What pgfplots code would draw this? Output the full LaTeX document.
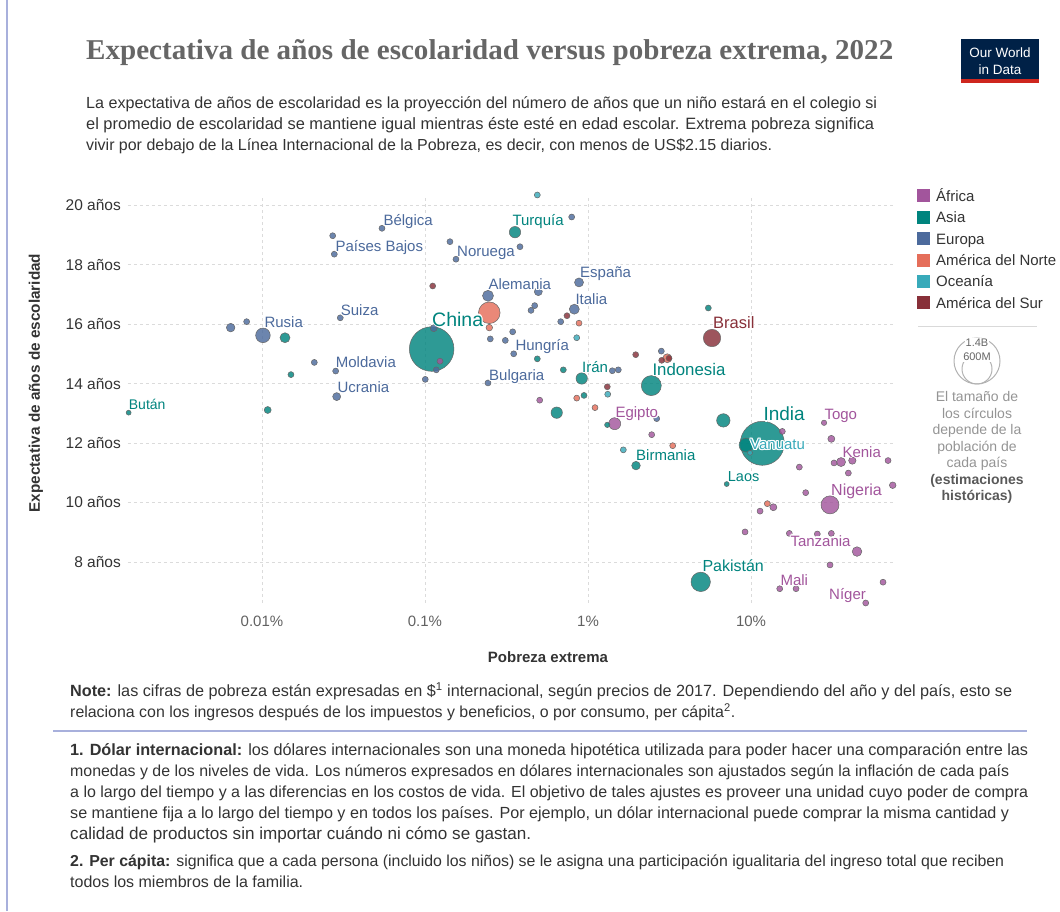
\documentclass[border=0pt]{standalone}
\usepackage{fontspec}
\setmainfont{Liberation Sans}
\newfontfamily\titlefont{Liberation Serif}
\usepackage{graphicx}
\usepackage{pgfplots}
\pgfplotsset{compat=1.18}
\usepackage{pgfplotstable}
\definecolor{c0}{HTML}{A2559C}
\definecolor{c1}{HTML}{00847E}
\definecolor{c2}{HTML}{4C6A9C}
\definecolor{c3}{HTML}{E56E5A}
\definecolor{c4}{HTML}{38AABA}
\definecolor{c5}{HTML}{883039}
\definecolor{txt}{HTML}{333333}
\definecolor{ttl}{HTML}{666666}
\definecolor{owid}{HTML}{002147}
\definecolor{owidred}{HTML}{CE261E}
\definecolor{frame}{HTML}{A8B0DC}

% x = poverty (%), y = years, r = radius (px), c = continent
% 0 Africa, 1 Asia, 2 Europe, 3 North America, 4 Oceania, 5 South America
\pgfplotstableread{
x y r c
0.1099 15.16 22.3 1
11.73 11.99 22.0 1
0.2480 16.38 10.8 3
2.445 13.93 10.0 1
4.913 7.33 9.7 1
30.52 9.92 9.0 0
5.764 15.53 8.7 5
0.01014 15.62 7.3 2
9.318 11.93 7.0 1
6.763 12.76 6.7 1
1.458 12.65 6.0 0
0.3566 19.09 5.7 1
0.9148 14.17 5.7 1
0.6427 13.02 5.7 1
0.2435 16.95 5.5 2
0.8241 16.50 5.0 2
0.01384 15.54 5.0 1
44.70 8.35 4.8 0
0.8807 17.40 4.5 2
35.66 11.36 4.5 0
3.065 14.85 4.5 3
0.006427 15.88 4.3 2
1.970 11.24 4.3 1
0.02873 13.56 4.0 2
0.4956 17.09 4.0 2
41.83 11.41 3.7 0
31.10 12.14 3.5 0
13.71 9.84 3.5 0
0.01084 13.11 3.5 1
0.1131 15.86 3.5 2
74.0 10.58 3.3 0
0.2480 15.88 3.3 3
0.02715 18.97 3.0 2
0.02778 18.35 3.0 2
0.03022 16.21 3.0 2
0.008053 16.08 3.0 2
0.02094 14.71 3.0 2
0.02832 14.42 3.0 2
0.7943 19.60 3.0 2
0.05447 19.22 3.0 2
0.1423 18.77 3.0 2
0.3826 18.60 3.0 2
0.1549 18.18 3.0 2
0.4710 16.62 3.0 2
0.4471 16.46 3.0 2
0.6803 16.08 3.0 2
0.2515 15.50 3.0 2
0.3109 15.45 3.0 2
0.3451 15.74 3.0 2
0.3501 15.00 3.0 2
0.1173 14.46 3.0 2
0.1004 14.14 3.0 2
0.2435 14.02 3.0 2
1.410 14.43 3.0 2
1.534 14.46 3.0 2
2.817 15.09 3.0 2
2.639 12.82 3.0 2
0.01506 14.30 3.0 1
0.4886 14.83 3.0 1
0.7056 14.46 3.0 1
0.9451 13.60 3.0 1
1.313 12.61 2.7 1
5.471 16.54 3.0 1
0.001521 13.02 2.5 1
7.094 10.62 2.5 1
0.4886 20.34 3.0 4
0.8526 15.54 3.0 4
1.321 13.64 3.0 4
1.647 11.77 3.0 4
9.860 11.67 2.5 4
0.8807 16.03 3.0 3
0.8526 13.51 3.0 3
1.104 13.19 3.0 3
3.308 11.91 3.0 3
12.59 9.96 3.0 3
0.1115 17.28 3.0 5
0.7431 16.28 3.0 5
1.962 14.97 3.0 5
1.313 13.89 3.0 5
2.833 14.78 3.0 5
3.140 14.85 3.0 5
0.1236 14.75 3.0 0
0.5055 13.44 3.0 0
2.459 12.28 3.0 0
15.56 12.39 3.0 0
28.05 12.68 2.7 0
19.79 11.19 3.0 0
32.30 11.33 3.0 0
39.54 10.99 3.0 0
69.27 11.41 3.0 0
21.65 10.33 3.0 0
11.36 9.71 3.0 0
9.189 9.01 3.0 0
17.18 8.96 3.0 0
25.51 8.94 3.0 0
31.10 8.96 3.0 0
30.52 7.90 3.0 0
15.00 7.10 3.0 0
18.89 7.10 3.0 0
64.53 7.32 3.0 0
50.53 6.62 3.0 0
}\datatable

% label: x-left (px), y-center (px), font size, colour, text
\newcommand\lab[5]{%
  \foreach \dx/\dy in {-1.2/0,1.2/0,0/-1.2,0/1.2,-0.85/-0.85,0.85/0.85,-0.85/0.85,0.85/-0.85}{%
    \node[anchor=base west, inner sep=0pt, text=white, font=\fontsize{#3}{#3}\selectfont] at ({#1+\dx},{911-#2-0.36*#3+\dy}) {#5};}%
  \node[anchor=base west, inner sep=0pt, text=#4, font=\fontsize{#3}{#3}\selectfont] at ({#1},{911-#2-0.36*#3}) {#5};%
}
% text line: x-left, y-center (px), width (px), text
\newcommand\tl[4]{\node[anchor=base west, inner sep=0pt, text=txt] at (#1,{911-#2-5.5}) {\resizebox{#3pt}{!}{\fontsize{15}{15}\selectfont #4}};}

\begin{document}
\begin{tikzpicture}[x=1pt,y=1pt]
\path[use as bounding box] (0,0) rectangle (1060,911);
\draw[frame, line width=1.5pt] (7,0) -- (7,911);

% title
\node[anchor=base west, inner sep=0pt, text=ttl] at (86,{911-60}) {\resizebox{807pt}{20pt}{\titlefont\bfseries Expectativa de años de escolaridad versus pobreza extrema, 2022}};
% logo
\fill[owid] (961,{911-83}) rectangle (1039,{911-39});
\fill[owidred] (961,{911-83}) rectangle (1039,{911-79});
\node[text=white, font=\fontsize{13.5}{13.5}\selectfont, inner sep=0pt, anchor=base] at (1000,{911-58}) {Our World};
\node[text=white, font=\fontsize{13.5}{13.5}\selectfont, inner sep=0pt, anchor=base] at (1000,{911-75}) {in Data};

% subtitle
\tl{86}{103}{791}{La expectativa de años de escolaridad es la proyección del número de años que un niño estará en el colegio si}
\tl{86}{124}{788}{el promedio de escolaridad se mantiene igual mientras éste esté en edad escolar. Extrema pobreza significa}
\tl{86}{145}{686}{vivir por debajo de la Línea Internacional de la Pobreza, es decir, con menos de US\$2.15 diarios.}

\begin{axis}[
  at={(128pt,308pt)}, anchor=south west,
  scale only axis, width=765pt, height=408pt,
  xmode=log, xmin=0.001507, xmax=74.3, ymin=6.62, ymax=20.34,
  axis line style={draw=none},
  tick style={draw=none},
  xtick={0.01,0.1,1,10}, xticklabels={0.01\%,0.1\%,1\%,10\%},
  ytick={8,10,12,14,16,18,20},
  yticklabels={8 años,10 años,12 años,14 años,16 años,18 años,20 años},
  minor x tick num=0,
  grid=major,
  major grid style={color=black!14, line width=0.8pt, dash pattern=on 3pt off 3pt},
  xticklabel style={font=\fontsize{15}{15}\selectfont, text=black!62, inner sep=0pt, yshift=-13pt},
  yticklabel style={font=\fontsize{15.5}{15.5}\selectfont, text=txt, inner sep=0pt, xshift=-7pt},
  clip=false,
]
\addplot[scatter, only marks, mark=*, point meta=\thisrow{r},
  visualization depends on={\thisrow{r} \as \rr},
  visualization depends on={\thisrow{c} \as \cc},
  scatter/@pre marker code/.code={%
    \pgfmathtruncatemacro\ci{\cc}%
    \edef\tmpcol{c\ci}%
    \scope[mark size=\rr, draw=black!60, line width=0.5pt, fill=\tmpcol, fill opacity=0.82]%
  },
  scatter/@post marker code/.code={\endscope},
] table[x=x,y=y] {\datatable};
\end{axis}

% axis titles
\node[rotate=90, font=\fontsize{15.3}{15.3}\selectfont\bfseries, text=txt] at (36,{911-383}) {Expectativa de años de escolaridad};
\node[font=\fontsize{15}{15}\selectfont\bfseries, text=txt] at (548,{911-657}) {Pobreza extrema};

% country labels
\lab{383.3}{220}{15}{c2}{Bélgica}
\lab{335.3}{246}{15}{c2}{Países Bajos}
\lab{457}{250.7}{15}{c2}{Noruega}
\lab{512.3}{220}{15}{c1}{Turquía}
\lab{340.7}{310}{15}{c2}{Suiza}
\lab{264.3}{321.7}{15}{c2}{Rusia}
\lab{335.7}{362}{15}{c2}{Moldavia}
\lab{337.3}{387}{15}{c2}{Ucrania}
\lab{128.7}{404}{14}{c1}{Bután}
\lab{488.3}{284}{15}{c2}{Alemania}
\lab{580}{271.7}{15}{c2}{España}
\lab{575.3}{298.7}{15}{c2}{Italia}
\lab{432}{319}{19.5}{c1}{China}
\lab{515.3}{344.7}{15}{c2}{Hungría}
\lab{489}{375}{15}{c2}{Bulgaria}
\lab{582}{367.3}{15}{c1}{Irán}
\lab{652.3}{369.3}{16.8}{c1}{Indonesia}
\lab{713}{322.7}{16.5}{c5}{Brasil}
\lab{615.3}{412.3}{15}{c0}{Egipto}
\lab{763.3}{414}{19}{c1}{India}
\lab{824.3}{414}{15}{c0}{Togo}
\lab{750}{444.3}{15}{c4}{Vanuatu}
\lab{842.3}{451.7}{15}{c0}{Kenia}
\lab{636}{454.7}{15}{c1}{Birmania}
\lab{727.7}{476}{14.5}{c1}{Laos}
\lab{831}{489.3}{16}{c0}{Nigeria}
\lab{790.3}{540.7}{15}{c0}{Tanzania}
\lab{702.3}{565.7}{16}{c1}{Pakistán}
\lab{780.3}{580}{15}{c0}{Mali}
\lab{829}{593.7}{15}{c0}{Níger}

% legend
\foreach \i/\name [count=\k from 0] in {c0/África,c1/Asia,c2/Europa,c3/América del Norte,c4/Oceanía,c5/América del Sur}{%
  \fill[\i] (917,{911-196-21.4*\k-6.5}) rectangle (930,{911-196-21.4*\k+6.5});
  \node[anchor=base west, inner sep=0pt, text=txt, font=\fontsize{15}{15}\selectfont] at (936,{911-196-21.4*\k-5.3}) {\name};
}
\draw[black!15, line width=1pt] (918,{911-327}) -- (1037,{911-327});
\draw[black!30, line width=1pt] (977,{911-361}) circle (23);
\draw[black!30, line width=1pt] (977,{911-369}) circle (15);
\node[fill=white, inner sep=0.8pt, text=black!60, font=\fontsize{11}{11}\selectfont] at (977,{911-343}) {1.4B};
\node[fill=white, inner sep=0.8pt, text=black!60, font=\fontsize{11}{11}\selectfont] at (977,{911-357}) {600M};
\begin{scope}[every node/.style={anchor=base, inner sep=0pt, font=\fontsize{14}{14}\selectfont}]
\node[text=black!42] at (977,{911-402}) {El tamaño de};
\node[text=black!42] at (977,{911-418.5}) {los círculos};
\node[text=black!42] at (977,{911-435}) {depende de la};
\node[text=black!42] at (977,{911-451.5}) {población de};
\node[text=black!42] at (977,{911-468}) {cada país};
\node[text=black!65, font=\fontsize{14}{14}\selectfont\bfseries] at (977,{911-484.5}) {(estimaciones};
\node[text=black!65, font=\fontsize{14}{14}\selectfont\bfseries] at (977,{911-501}) {históricas)};
\end{scope}

% notes
\tl{70}{691}{942}{\textbf{Note:} las cifras de pobreza están expresadas en \$\textsuperscript{1} internacional, según precios de 2017. Dependiendo del año y del país, esto se}
\tl{70}{712}{665}{relaciona con los ingresos después de los impuestos y beneficios, o por consumo, per cápita\textsuperscript{2}.}
\draw[frame, line width=1.5pt] (53,{911-731}) -- (1027,{911-731});
\tl{70}{750}{958}{\textbf{1. Dólar internacional:} los dólares internacionales son una moneda hipotética utilizada para poder hacer una comparación entre las}
\tl{70}{771}{939}{monedas y de los niveles de vida. Los números expresados en dólares internacionales son ajustados según la inflación de cada país}
\tl{70}{792}{958}{a lo largo del tiempo y a las diferencias en los costos de vida. El objetivo de tales ajustes es proveer una unidad cuyo poder de compra}
\tl{70}{813}{939}{se mantiene fija a lo largo del tiempo y en todos los países. Por ejemplo, un dólar internacional puede comprar la misma cantidad y}
\tl{70}{834}{461}{calidad de productos sin importar cuándo ni cómo se gastan.}
\tl{70}{861}{934}{\textbf{2. Per cápita:} significa que a cada persona (incluido los niños) se le asigna una participación igualitaria del ingreso total que reciben}
\tl{70}{882}{233}{todos los miembros de la familia.}
\end{tikzpicture}
\end{document}
